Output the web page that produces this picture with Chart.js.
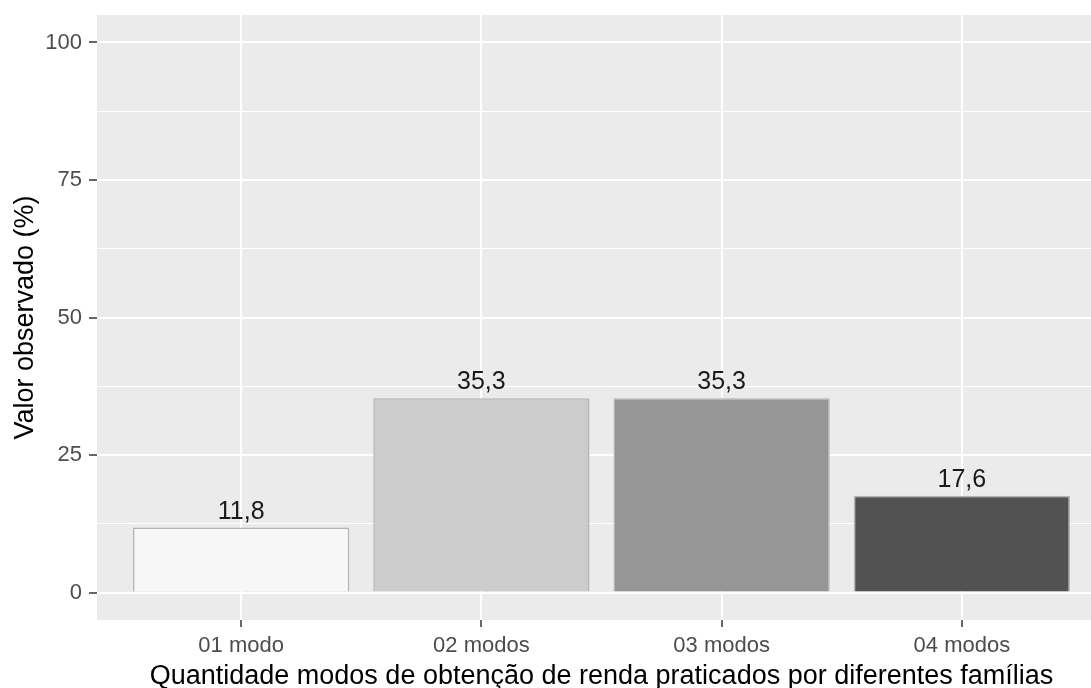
<!DOCTYPE html>
<html>
<head>
<meta charset="utf-8">
<script src="https://cdn.jsdelivr.net/npm/chart.js@4/dist/chart.umd.min.js"></script>
<style>
  html, body { margin: 0; padding: 0; overflow: hidden; background: #fff; }
  canvas { display: block; }
</style>
</head>
<body>
<canvas id="myChart" width="1120" height="688"></canvas>
<script>
// data
const categories = ['01 modo', '02 modos', '03 modos', '04 modos'];
const values = [11.8, 35.3, 35.3, 17.6];
const yTicks = [0, 25, 50, 75, 100];

// fill colours (grey palette) and other styles
const fills = ['#F7F7F7', '#CCCCCC', '#969696', '#525252'];
const FONT = '"Liberation Sans", Arial, sans-serif';

// ggplot-like grey panel behind the plot
const panelBg = {
  id: 'panelBg',
  beforeDraw(chart) {
    const {ctx, chartArea: a} = chart;
    ctx.save();
    ctx.fillStyle = '#EBEBEB';
    ctx.fillRect(a.left, a.top, a.right - a.left, a.bottom - a.top);
    ctx.restore();
  }
};

// value labels on top of the bars, with comma as decimal mark
const barLabels = {
  id: 'barLabels',
  afterDatasetsDraw(chart) {
    const ctx = chart.ctx;
    const meta = chart.getDatasetMeta(0);
    ctx.save();
    ctx.font = '25px ' + FONT;
    ctx.fillStyle = '#1A1A1A';
    ctx.textAlign = 'center';
    ctx.textBaseline = 'alphabetic';
    meta.data.forEach((bar, i) => {
      ctx.fillText(values[i].toFixed(1).replace('.', ','), bar.x, bar.y - 9);
    });
    ctx.restore();
  }
};

// minor lines halfway between major ticks
const minorMajor = [];
yTicks.forEach((t, i) => {
  if (i > 0) minorMajor.push((yTicks[i - 1] + t) / 2);
  minorMajor.push(t);
});
const isMajor = v => yTicks.includes(v);

const chart = new Chart(document.getElementById('myChart'), {
  type: 'bar',
  data: {
    datasets: [{
      data: values.map((v, i) => ({x: i + 1, y: v})),
      backgroundColor: fills,
      borderColor: '#B3B3B3',
      borderWidth: 1.5,
      categoryPercentage: 1,
      barPercentage: 0.9
    }]
  },
  options: {
    responsive: false,
    animation: false,
    layout: { padding: { top: 15, right: 14, left: 0, bottom: 0 } },
    plugins: { legend: { display: false }, tooltip: { enabled: false } },
    scales: {
      x: {
        type: 'linear',
        min: 0.4,
        max: 4.6,
        offset: false,
        afterBuildTicks: s => { s.ticks = categories.map((c, i) => ({value: i + 1})); },
        afterFit: s => { s.height = 68; s.paddingLeft = 0; s.paddingRight = 0; },
        border: { display: false },
        grid: { color: '#FFFFFF', lineWidth: 2, offset: false, tickLength: 7, tickColor: '#333333', tickWidth: 1.5 },
        ticks: {
          padding: 6,
          color: '#4D4D4D',
          font: { family: FONT, size: 22 },
          callback: v => categories[v - 1]
        },
        title: {
          display: true,
          text: 'Quantidade modos de obtenção de renda praticados por diferentes famílias',
          color: '#000000',
          font: { family: FONT, size: 27, lineHeight: 0.8 },
          padding: { top: 0, bottom: 1 }
        }
      },
      y: {
        min: -5,
        max: 105,
        afterBuildTicks: s => { s.ticks = minorMajor.map(v => ({value: v})); },
        afterFit: s => { s.width = 97; s.paddingTop = 0; s.paddingBottom = 0; },
        border: { display: false },
        grid: {
          color: '#FFFFFF',
          lineWidth: c => (c.tick && isMajor(c.tick.value)) ? 2 : 1,
          tickLength: 8,
          tickColor: c => (c.tick && isMajor(c.tick.value)) ? '#333333' : 'rgba(0,0,0,0)',
          tickWidth: 1.5
        },
        ticks: {
          padding: 7,
          color: '#4D4D4D',
          font: { family: FONT, size: 22 },
          callback: v => isMajor(v) ? String(v) : ''
        },
        title: {
          display: true,
          text: 'Valor observado (%)',
          color: '#000000',
          font: { family: FONT, size: 27, lineHeight: 1 },
          padding: { top: 12, bottom: 0 }
        }
      }
    }
  },
  plugins: [panelBg, barLabels]
});
</script>
</body>
</html>
